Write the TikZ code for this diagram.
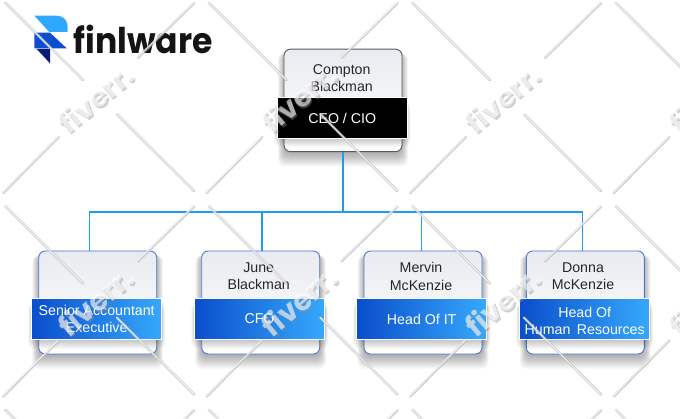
\documentclass[tikz,border=0pt]{standalone}
\usepackage{fontspec}
\setmainfont{Liberation Sans}
\newfontfamily\logofont{Poppins}
\definecolor{linkblue}{HTML}{1C9CF2}
\definecolor{boxtop}{HTML}{E9EBF0}
\definecolor{bandleft}{HTML}{0A4ECB}
\definecolor{bandright}{HTML}{36A9FC}
\definecolor{boxedge}{HTML}{4A78D8}
\definecolor{logolight}{HTML}{2FA8FF}
\definecolor{logomid}{HTML}{0B4FD0}
\definecolor{logodark}{HTML}{0A1A78}
\tikzset{
  cardbox/.style={draw=boxedge,line width=0.9pt,rounded corners=6.5pt,top color=boxtop,bottom color=white,minimum width=118pt,minimum height=103pt,inner sep=0pt},
  ceocard/.style={cardbox,draw=black!65,minimum height=102.5pt},
  band/.style={draw=white,line width=1pt,minimum width=130pt,minimum height=40.5pt,inner sep=0pt,align=center,text=white,left color=bandleft,right color=bandright,font=\fontsize{14.2}{17.3}\selectfont},
  ceoband/.style={band,left color=black,right color=black,fill=black},
  nametext/.style={inner sep=0pt,align=center,text=black!85,font=\fontsize{14.2}{17.3}\selectfont},
  link/.style={draw=linkblue,line width=1.25pt},
  wmark/.style={line cap=round,opacity=.7},
}
% #1..#4 = box, #5 = number of layers (spread in px)
\newcommand{\softshadow}[5]{%
  \foreach \k in {1,...,#5}{%
    \fill[black,opacity=.022,rounded corners=7pt]
      (#1-#5*.5+\k*.5,#2+4) rectangle (#3+#5*.5-\k*.5,#4+2+#5-\k);
  }%
}
\newcommand{\wmtext}{{\logofont\bfseries\fontsize{29}{29}\selectfont fiverr.}}
\begin{document}
\begin{tikzpicture}[x=1pt,y=-1pt]
\useasboundingbox (0,0) rectangle (680,419);
\fill[white] (0,0) rectangle (680,419);

% soft shadows
\softshadow{284.3}{49}{401.7}{151.7}{14}
\softshadow{38.7}{251}{156.7}{354}{14}
\softshadow{201.7}{251}{319.7}{354}{14}
\softshadow{364}{251}{482}{354}{14}
\softshadow{526.3}{251}{644.3}{354}{14}

% cards
\node[ceocard] (ceo) at (343,100.4) {};
\node[cardbox] (sr) at (97.7,302.5) {};
\node[cardbox] (cfo) at (260.7,302.5) {};
\node[cardbox] (it) at (423,302.5) {};
\node[cardbox] (hr) at (585.3,302.5) {};

% connectors
\coordinate (busL) at (89.5,212);
\coordinate (busR) at (582.7,212);
\coordinate (busB) at (262,212);
\coordinate (busI) at (421.7,212);
\coordinate (hub) at (ceo.south |- busL);
\draw[link] (ceo.south) -- (hub);
\draw[link] (sr.north -| busL) -- (busL) -- (busR) -- (hr.north -| busR);
\draw[link] (busB) -- (cfo.north -| busB);
\draw[link] (busI) -- (it.north -| busI);

% names
\node[nametext] (ceoname) at (341.7,78) {Compton\\Blackman};
\node[nametext] (cfoname) at (258.7,276.5) {June\\Blackman};
\node[nametext] (itname) at (421,276.5) {Mervin\\McKenzie};
\node[nametext] (hrname) at (583,276.5) {Donna\\McKenzie};

% band shadows
\softshadow{278}{98.5}{406.5}{137}{9}
\softshadow{32}{299}{161.3}{339}{9}
\softshadow{195}{299}{324.3}{339}{9}
\softshadow{357}{299}{486.7}{339}{9}
\softshadow{520}{299}{649.3}{339}{9}

% bands
\node[ceoband] (ceoband) at (342.2,118) {CEO / CIO};
\node[band] (srband) at (96.7,319) {Senior Accountant\\[0.3pt]Executive};
\node[band] (cfoband) at (259.5,319) {CFO};
\node[band] (itband) at (421.7,319) {Head Of IT};
\node[band] (hrband) at (584.7,319) {\rule{0pt}{14pt}Head Of\\Human\hspace{2.5pt} Resources};

% logo
\fill[logolight] (34.3,15.7) -- (56.7,15.7) .. controls (63.5,15.7) and (67.7,20.5) .. (67.7,27) -- (67.7,32) -- (49.3,32) -- cycle;
\fill[logomid] (34.3,32.7) -- (50,32.7) -- (66.7,48.3) -- (34.3,48.3) -- cycle;
\fill[logodark] (36.7,49) -- (50,49) -- (50,63.3) -- cycle;
\node[anchor=base west,inner sep=0pt,text=black!92,xscale=.93] (logotext) at (73.5,53.3) {\logofont\bfseries\fontsize{35.5}{36}\selectfont finlware};

% watermark tiles
\begin{scope}
\clip (0,0) rectangle (680,419);
\foreach \i in {0,...,3}{
  \foreach \j in {0,1,2}{
    \begin{scope}[shift={(96+203.5*\i,98+203.5*\j)}]
      \foreach \ax/\ay/\bx/\by in {-90.7/-95.3/-13/-18, 42/-40.3/98/-95, -37.3/39/-93/95, 21/16.3/98/93}{
        \draw[wmark,draw=black!28,line width=2.6pt] (\ax,\ay) -- (\bx,\by);
        \draw[wmark,draw=white,line width=1.2pt] (\ax-.4,\ay-.4) -- (\bx-.4,\by-.4);
      }
      \node[rotate=40,opacity=.4,text=black!45,inner sep=0pt] (wa\i\j) at (1,1.3) {\wmtext};
      \node[rotate=40,opacity=.6,text=white,inner sep=0pt] (wb\i\j) at (-.4,-.4) {\wmtext};
    \end{scope}
  }
}
\end{scope}
\end{tikzpicture}
\end{document}
